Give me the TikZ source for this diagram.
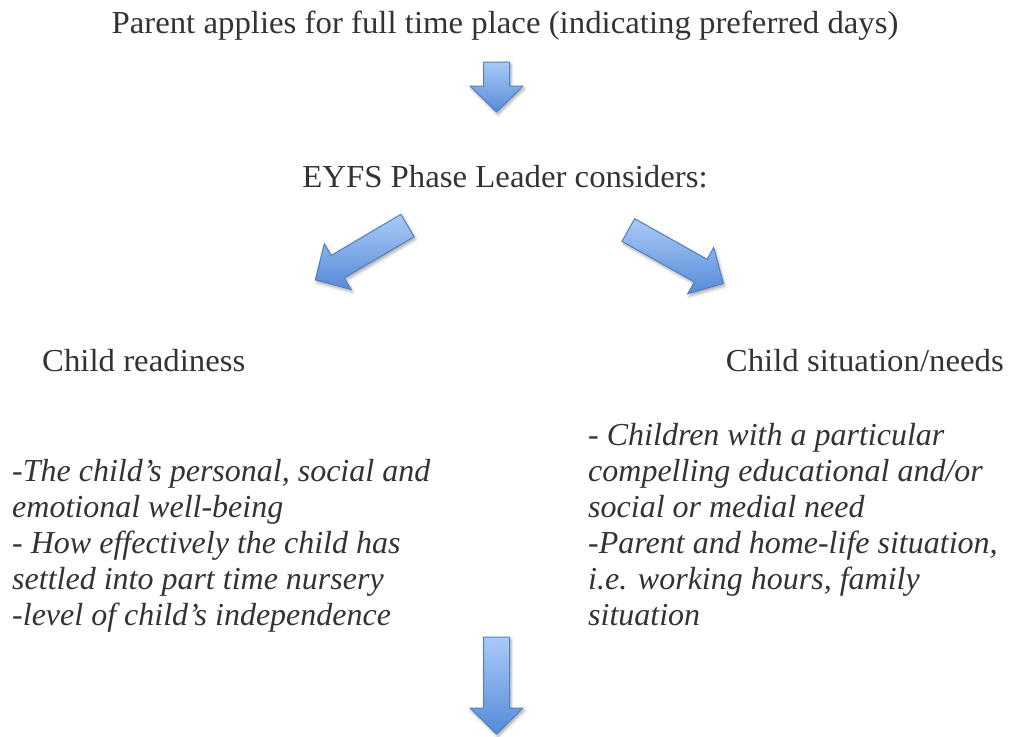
\documentclass[tikz,border=0pt]{standalone}
\usepackage{fontspec}
\setmainfont{Liberation Serif}[UprightFeatures={FakeStretch=1.025}]
\usetikzlibrary{shadows.blur}

\definecolor{arrowlight}{RGB}{170,202,247}
\definecolor{arrowdark}{RGB}{86,139,216}
\definecolor{arrowline}{RGB}{79,129,189}
\definecolor{textgrey}{RGB}{51,51,51}

\tikzset{
  label text/.style={text=textgrey, inner sep=0pt, font=\fontsize{32}{36}\selectfont},
  list text/.style={text=textgrey, inner sep=0pt, align=left, font=\fontsize{32}{36}\selectfont\itshape},
  block arrow/.style={draw=arrowline, line width=1pt, top color=arrowlight, bottom color=arrowdark,
    blur shadow={shadow xshift=1.5pt, shadow yshift=-2.5pt, shadow blur radius=3pt, shadow opacity=35}},
}

% block arrow: tail centre, angle, length
\newcommand{\blockarrow}[3]{%
  \begin{scope}[shift={#1}, rotate=#2]
    \draw[block arrow] (0,-13) -- (#3-26,-13) -- (#3-26,-26.5) -- (#3,0)
      -- (#3-26,26.5) -- (#3-26,13) -- (0,13) -- cycle;
  \end{scope}}

\begin{document}
\begin{tikzpicture}[x=1pt, y=-1pt]
  \useasboundingbox (0,0) rectangle (1011,736);

  % texts
  \node[label text, anchor=base] (apply) at (505,33) {Parent applies for full time place (indicating preferred days)};
  \node[label text, anchor=base] (leader) at (505,187) {EYFS Phase Leader considers:};
  \node[label text, anchor=base west] (readiness) at (42,371) {Child readiness};
  \node[label text, anchor=base east] (needs) at (1004,371) {Child situation/needs};

  \node[list text, anchor=north west] (readlist) at (12,459) {-The child’s personal, social and\\
    emotional well-being\\
    - How effectively the child has\\
    settled into part time nursery\\
    -level of child’s independence};
  \node[list text, anchor=north west] (needlist) at (588,423) {- Children with a particular\\
    compelling educational and/or\\
    social or medial need\\
    -Parent and home-life situation,\\
    i.e. working hours, family\\
    situation};

  % arrows
  \blockarrow{(496.5,62)}{-90}{50}
  \blockarrow{(407.5,225.5)}{210.5}{107}
  \blockarrow{(628.3,230)}{-29.3}{109}
  \blockarrow{(496.5,637)}{-90}{97}
\end{tikzpicture}
\end{document}
